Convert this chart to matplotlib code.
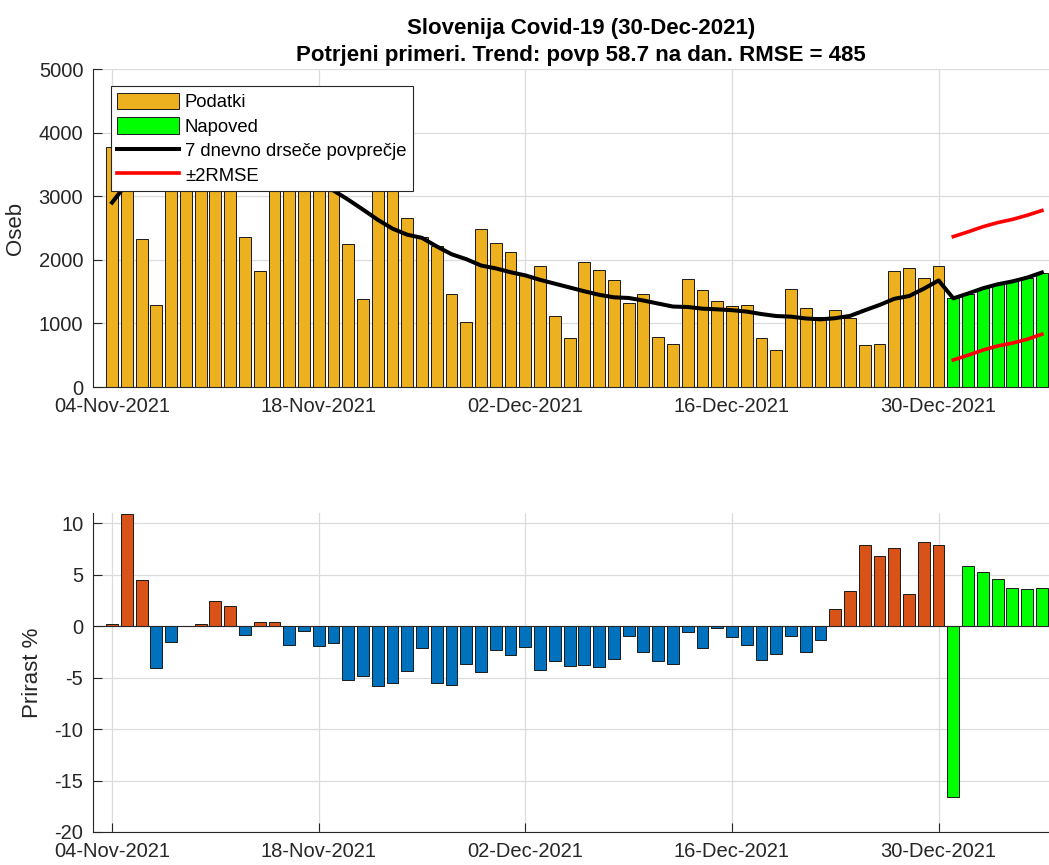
import numpy as np
import pandas as pd
import matplotlib
matplotlib.use('Agg')
import matplotlib.pyplot as plt
import matplotlib.dates as mdates

plt.rcParams['font.family'] = ['Liberation Sans', 'DejaVu Sans']
plt.rcParams['axes.unicode_minus'] = False

# dnevni podatki 04-Nov-2021 .. 30-Dec-2021
data_dates = pd.date_range('2021-11-04', '2021-12-30')
cases = [3780, 3675, 2322, 1284, 3315, 4487, 3575, 3430, 3675, 2364, 1819,
         3757, 4285, 3665, 3515, 3248, 2243, 1384, 3390, 3141, 2662, 2364,
         2222, 1468, 1027, 2490, 2259,
         2128, 1766, 1908, 1111, 765, 1960, 1845, 1688, 1316, 1468, 786, 671,
         1703, 1525, 1347, 1268, 1284, 765, 577, 1546, 1247, 1101, 1205,
         1080, 655, 681, 1819, 1866, 1709, 1897]
ma7 = [2900, 3200, 3345, 3208, 3158, 3158, 3165, 3241, 3304, 3275, 3288,
       3300, 3240, 3224, 3150, 3090, 2945, 2790, 2630, 2490, 2395, 2345,
       2210, 2088, 2010, 1910, 1865,
       1805, 1755, 1685, 1625, 1565, 1505, 1450, 1410, 1400, 1360, 1312, 1265,
       1258, 1232, 1221, 1208, 1186, 1147, 1116, 1106, 1078, 1064, 1082,
       1118, 1206, 1290, 1387, 1430, 1546, 1675]
growth = [0.23, 10.9, 4.5, -4.1, -1.55, 0.0, 0.23, 2.42, 1.94, -0.87, 0.39,
          0.39, -1.84, -0.48, -1.94, -1.65, -5.23, -4.84, -5.81, -5.52, -4.35,
          -2.13, -5.48, -5.68, -3.65, -4.45, -2.32,
          -2.81, -2.0, -4.26, -3.39, -3.87, -3.77, -3.97, -3.19, -0.94, -2.52,
          -3.39, -3.68, -0.55, -2.10, -0.19, -1.03, -1.84, -3.29, -2.71, -0.94,
          -2.52, -1.35, 1.68, 3.39, 7.84, 6.84, 7.55, 3.10, 8.13, 7.84]

# napoved 31-Dec-2021 .. 06-Jan-2022
fc_dates = pd.date_range('2021-12-31', '2022-01-06')
forecast = [1394, 1470, 1552, 1615, 1660, 1720, 1800]
upper = [2365, 2440, 2520, 2585, 2635, 2700, 2775]
lower = [425, 500, 580, 645, 690, 750, 830]
growth_fc = [-16.6, 5.81, 5.26, 4.58, 3.68, 3.58, 3.68]

tick_dates = pd.to_datetime(['2021-11-04', '2021-11-18', '2021-12-02',
                             '2021-12-16', '2021-12-30'])

c_data = '#EDB120'
c_fc = '#00FF00'
c_pos = '#D95319'
c_neg = '#0072BD'
c_axis = '#262626'
c_grid = '#DCDCDC'

fig = plt.figure(figsize=(10.49, 8.65), dpi=100)
ax1 = fig.add_axes([0.0887, 0.5526, 0.9304, 0.3676])
ax2 = fig.add_axes([0.0887, 0.0382, 0.9304, 0.3688])

d0 = mdates.date2num(data_dates[0])
xlim = (d0 - 1.29, d0 + 64.84)


def style_axes(ax):
    ax.set_axisbelow(True)
    ax.grid(True, color=c_grid, linewidth=0.9)
    for s in ['top', 'right']:
        ax.spines[s].set_visible(False)
    for s in ['left', 'bottom']:
        ax.spines[s].set_color(c_axis)
        ax.spines[s].set_linewidth(0.8)
    ax.tick_params(direction='in', length=6.5, width=0.8, colors=c_axis,
                   labelsize=14.5, pad=7)
    ax.set_xticks(tick_dates)
    ax.xaxis.set_major_formatter(mdates.DateFormatter('%d-%b-%Y'))
    ax.set_xlim(xlim)


# zgornji graf
style_axes(ax1)
b1 = ax1.bar(data_dates, cases, width=0.8, color=c_data, edgecolor='#1a1a1a',
             linewidth=0.7, label='Podatki')
b2 = ax1.bar(fc_dates, forecast, width=0.8, color=c_fc, edgecolor='#1a1a1a',
             linewidth=0.7, label='Napoved')
all_dates = data_dates.append(fc_dates)
l1, = ax1.plot(all_dates, ma7 + forecast, color='black', linewidth=2.9,
               label='7 dnevno drseče povprečje')
l2, = ax1.plot(fc_dates, upper, color='red', linewidth=2.6, label='±2RMSE')
ax1.plot(fc_dates, lower, color='red', linewidth=2.6)
ax1.set_ylim(0, 5000)
ax1.set_yticks([0, 1000, 2000, 3000, 4000, 5000])
ax1.set_ylabel('Oseb', fontsize=16, color=c_axis, labelpad=9)
ax1.set_title('Slovenija Covid-19 (30-Dec-2021)\n'
              'Potrjeni primeri. Trend: povp 58.7 na dan. RMSE = 485',
              fontsize=16, fontweight='bold', linespacing=1.35, pad=6)
leg = ax1.legend(handles=[b1, b2, l1, l2], loc='upper left',
                 bbox_to_anchor=(0.0184, 0.9465), borderaxespad=0,
                 fontsize=13.3, fancybox=False, framealpha=1,
                 edgecolor=c_axis, handlelength=3.35, handleheight=1.0,
                 handletextpad=0.3, borderpad=0.35, labelspacing=0.32)
leg.get_frame().set_linewidth(0.8)

# spodnji graf - prirast
style_axes(ax2)
colors = [c_pos if g > 0 else c_neg for g in growth]
ax2.bar(data_dates, growth, width=0.8, color=colors, edgecolor='#1a1a1a',
        linewidth=0.7)
ax2.bar(fc_dates, growth_fc, width=0.8, color=c_fc, edgecolor='#1a1a1a',
        linewidth=0.7)
ax2.axhline(0, color=c_axis, linewidth=0.8, zorder=3)
ax2.set_ylim(-20, 11)
ax2.set_yticks([-20, -15, -10, -5, 0, 5, 10])
ax2.set_ylabel('Prirast %', fontsize=16, color=c_axis, labelpad=8)

fig.savefig('out.png', dpi=100)
